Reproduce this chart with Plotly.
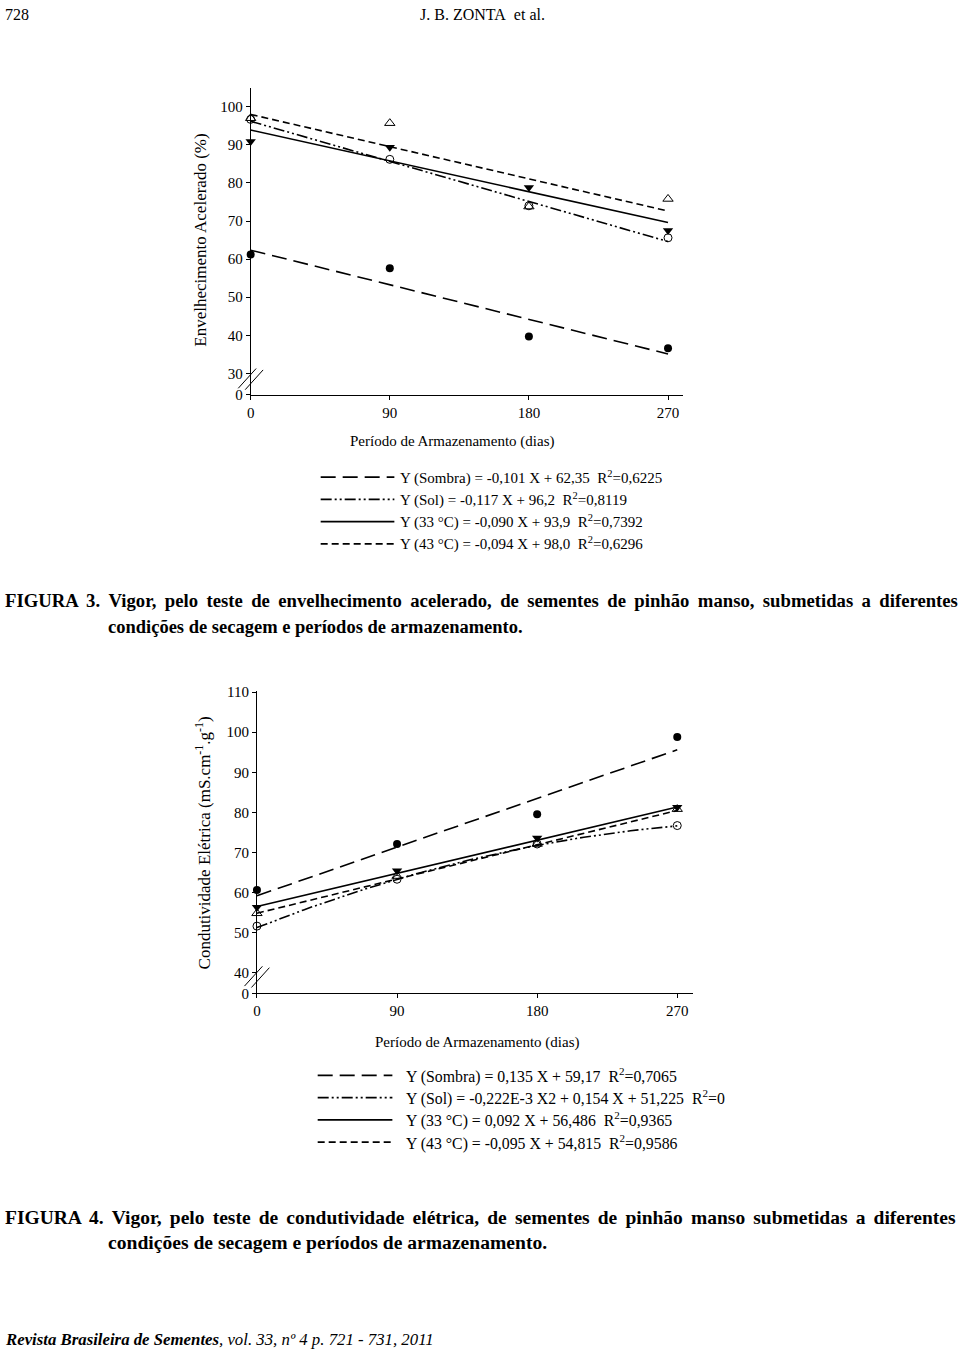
import numpy as np
import plotly.graph_objects as go

W, H = 960, 1358
FONT = "Liberation Serif"

# ---------------- data ----------------
days = [0, 90, 180, 270]

# Figura 3 - Envelhecimento acelerado (%)
ea_sombra = [61.2, 57.6, 39.7, 36.6]
ea_sol = [96.7, 86.2, 74.0, 65.6]
ea_33 = [90.9, 89.4, 78.8, 67.5]
ea_43 = [97.0, 95.7, 73.8, 75.8]
# regression coefficients [c2, c1, c0] as given in the legend
ea_fit_sombra = [0.0, -0.101, 62.35]
ea_fit_sol = [0.0, -0.117, 96.2]
ea_fit_33 = [0.0, -0.090, 93.9]
ea_fit_43 = [0.0, -0.094, 98.0]
ea_legend = [
    "Y (Sombra) = -0,101 X + 62,35&nbsp;&nbsp;R<sup>2</sup>=0,6225",
    "Y (Sol) = -0,117 X + 96,2&nbsp;&nbsp;R<sup>2</sup>=0,8119",
    "Y (33 °C) = -0,090 X + 93,9&nbsp;&nbsp;R<sup>2</sup>=0,7392",
    "Y (43 °C) = -0,094 X + 98,0&nbsp;&nbsp;R<sup>2</sup>=0,6296",
]
ea_ticks = [30, 40, 50, 60, 70, 80, 90, 100]

# Figura 4 - Condutividade elétrica
ce_sombra = [60.6, 72.1, 79.5, 98.8]
ce_sol = [51.6, 63.3, 72.1, 76.7]
ce_33 = [56.3, 65.4, 73.6, 81.3]
ce_43 = [54.8, 64.1, 72.1, 80.8]
ce_fit_sombra = [0.0, 0.135, 59.17]
ce_fit_sol = [-0.222e-3, 0.154, 51.225]
ce_fit_33 = [0.0, 0.092, 56.486]
ce_fit_43 = [0.0, 0.095, 54.815]
ce_legend = [
    "Y (Sombra) = 0,135 X + 59,17&nbsp;&nbsp;R<sup>2</sup>=0,7065",
    "Y (Sol) = -0,222E-3 X2 + 0,154 X + 51,225&nbsp;&nbsp;R<sup>2</sup>=0",
    "Y (33 °C) = 0,092 X + 56,486&nbsp;&nbsp;R<sup>2</sup>=0,9365",
    "Y (43 °C) = -0,095 X + 54,815&nbsp;&nbsp;R<sup>2</sup>=0,9586",
]
ce_ticks = [40, 50, 60, 70, 80, 90, 100, 110]

# ---------------- helpers ----------------
def px(x):
    return x / W

def py(y):
    return 1 - y / H

DASH = {
    "sombra": "15px,7px",
    "sol": "11px,3px,2px,3px,2px,3px",
    "33": "solid",
    "43": "7px,4px",
}
MARK = {
    "sombra": dict(symbol="circle", color="black", size=8),
    "sol": dict(symbol="circle-open", color="black", size=8, line=dict(width=1, color="black")),
    "33": dict(symbol="triangle-down", color="black", size=9),
    "43": dict(symbol="triangle-up-open", color="black", size=9, line=dict(width=1, color="black")),
}

fig = go.Figure()

xfit = np.linspace(0, 270, 55)


def add_panel(xa, ya, series, fits):
    for key in ["sombra", "sol", "33", "43"]:
        c = fits[key]
        yfit = c[0] * xfit ** 2 + c[1] * xfit + c[2]
        fig.add_trace(go.Scatter(
            x=xfit, y=yfit, mode="lines", xaxis=xa, yaxis=ya,
            line=dict(color="black", width=1.6, dash=DASH[key]),
            showlegend=False, hoverinfo="skip"))
    for key in ["sombra", "sol", "33", "43"]:
        fig.add_trace(go.Scatter(
            x=days, y=series[key], mode="markers", xaxis=xa, yaxis=ya,
            marker=MARK[key], cliponaxis=False, showlegend=False))


add_panel("x", "y",
          {"sombra": ea_sombra, "sol": ea_sol, "33": ea_33, "43": ea_43},
          {"sombra": ea_fit_sombra, "sol": ea_fit_sol, "33": ea_fit_33, "43": ea_fit_43})
add_panel("x2", "y2",
          {"sombra": ce_sombra, "sol": ce_sol, "33": ce_33, "43": ce_43},
          {"sombra": ce_fit_sombra, "sol": ce_fit_sol, "33": ce_fit_33, "43": ce_fit_43})

axis_common = dict(showgrid=False, zeroline=False, showline=True, linecolor="black",
                   linewidth=1, ticks="outside", ticklen=4, tickcolor="black",
                   tickfont=dict(family=FONT, size=15, color="black"), mirror=False)

ea_zero = 24.4
ce_zero = 34.8
fig.update_layout(
    width=W, height=H,
    margin=dict(l=0, r=0, t=0, b=0),
    paper_bgcolor="white", plot_bgcolor="white",
    xaxis=dict(domain=[px(247.7), px(681.7)], range=[0, 279.6],
               tickvals=days, anchor="y", **axis_common),
    yaxis=dict(domain=[py(392.7), py(83)], range=[ea_zero, 104.9],
               tickvals=[ea_zero] + ea_ticks,
               ticktext=["0"] + [str(t) for t in ea_ticks], anchor="x", **axis_common),
    xaxis2=dict(domain=[px(254), px(691.7)], range=[0, 280.0],
                tickvals=days, anchor="y2", **axis_common),
    yaxis2=dict(domain=[py(997.7), py(691.7)], range=[ce_zero, 110.4],
                tickvals=[ce_zero] + ce_ticks,
                ticktext=["0"] + [str(t) for t in ce_ticks], anchor="x2", **axis_common),
    showlegend=False,
)

ann = []
shapes = []

def text(x, y, s, size=15, xanchor="left", angle=0, **kw):
    ann.append(dict(x=px(x), y=py(y), xref="paper", yref="paper", text=s,
                    showarrow=False, xanchor=xanchor, yanchor="middle",
                    textangle=angle, borderpad=0,
                    font=dict(family=FONT, size=size, color="black"), **kw))

# axis titles
text(450, 440, "Período de Armazenamento (dias)", 15, "center")
text(197, 237, "Envelhecimento Acelerado (%)", 17, "center", angle=-90)
text(475, 1047, "Período de Armazenamento (dias)", 15, "center")
text(200, 846, "Condutividade Elétrica (mS.cm<sup>-1</sup>.g<sup>-1</sup>)", 17, "center", angle=-90)

# axis break marks
def brk(cx, cy):
    for d in (-3.5, 3.5):
        shapes.append(dict(type="line", xref="paper", yref="paper",
                           x0=px(cx - 9 + d), y0=py(cy + 10 + d * 0.2),
                           x1=px(cx + 9 + d), y1=py(cy - 10 + d * 0.2),
                           line=dict(color="black", width=1)))
brk(247.7, 377)
brk(254, 981)

# custom legends
def legend(x0, x1, xt, ys, labels, fs):
    keys = ["sombra", "sol", "33", "43"]
    for k, yy, lab in zip(keys, ys, labels):
        shapes.append(dict(type="line", xref="paper", yref="paper",
                           x0=px(x0), x1=px(x1), y0=py(yy), y1=py(yy),
                           line=dict(color="black", width=1.8, dash=DASH[k])))
        text(xt, yy, lab, fs)

legend(318, 392, 397, [476, 498.5, 521, 543.5], ea_legend, 15)
legend(315, 390, 403, [1080.5, 1103, 1125.5, 1148], ce_legend, 15.8)

# page header / captions / footer
TS = "\u2009"   # thin space used to justify the first caption lines
HS = "\u200a"   # hair space

def justify(s, extra):
    return s.replace(" ", " " + extra)

cap3a = "FIGURA 3. Vigor, pelo teste de envelhecimento acelerado, de sementes de pinhão manso, submetidas a diferentes"
cap4a = "FIGURA 4. Vigor, pelo teste de condutividade elétrica, de sementes de pinhão manso submetidas a diferentes"
cap_b = "condições de secagem e períodos de armazenamento."

text(0, 9, "728", 16)
text(480, 9, "J. B. ZONTA&nbsp;&nbsp;et al.", 16, "center")
text(0, 601, "<b>" + justify(cap3a, TS) + "</b>", 18.7)
text(103, 627, "<b>" + cap_b + "</b>", 18.5)
text(0, 1224, "<b>" + justify(cap4a, HS + HS) + "</b>", 19.5)
text(103, 1249, "<b>" + cap_b + "</b>", 19.6)
text(0, 1347, "<b><i>Revista Brasileira de Sementes</i></b><i>, vol. 33, nº 4 p. 721 - 731, 2011</i>", 16.8)

fig.update_layout(annotations=ann, shapes=shapes)

fig.write_html("out.html")
